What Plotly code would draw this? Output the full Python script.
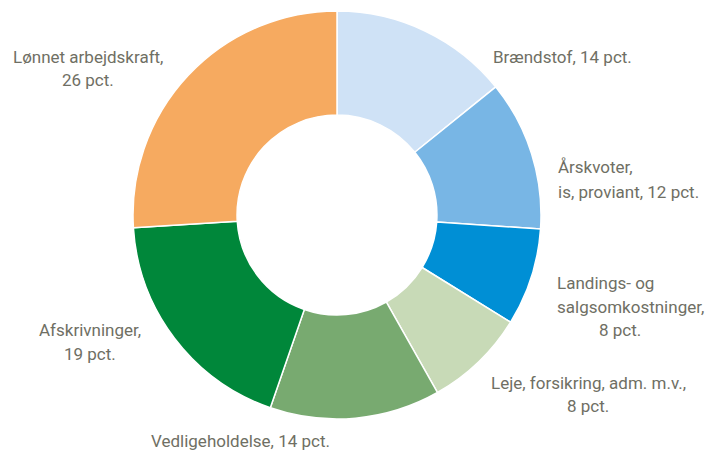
import plotly.graph_objects as go

categories = ["Brændstof", "Årskvoter, is, proviant", "Landings- og salgsomkostninger",
              "Leje, forsikring, adm. m.v.", "Vedligeholdelse", "Afskrivninger", "Lønnet arbejdskraft"]
# slice sizes (labels show rounded pct.)
values = [14.2, 11.9, 7.7, 8.0, 13.5, 18.7, 26.0]
colors = ["#cfe2f6", "#78b6e5", "#008fd5", "#c8dab7", "#78aa70", "#00873a", "#f6aa60"]

# label lines: (text, x_px, y_px, anchor)
label_lines = [
    ("Lønnet arbejdskraft,", 88, 57, "center"),
    ("26 pct.", 88, 80, "center"),
    ("Brændstof, 14 pct.", 491, 57, "left"),
    ("Årskvoter,", 556, 167, "left"),
    ("is, proviant, 12 pct.", 556, 192, "left"),
    ("Landings- og", 555, 283, "left"),
    ("salgsomkostninger,", 555, 307, "left"),
    ("8 pct.", 620, 330, "center"),
    ("Leje, forsikring, adm. m.v.,", 588, 383, "center"),
    ("8 pct.", 588, 406, "center"),
    ("Afskrivninger,", 90, 330, "center"),
    ("19 pct.", 90, 354, "center"),
    ("Vedligeholdelse, 14 pct.", 240, 441, "center"),
]

W, H = 710, 458
cx, cy, r = 337, 215, 204

fig = go.Figure(go.Pie(
    labels=categories,
    values=values,
    marker=dict(colors=colors, line=dict(color="white", width=1.5)),
    hole=0.49,
    sort=False,
    direction="clockwise",
    rotation=0,
    textinfo="none",
    hoverinfo="label",
    showlegend=False,
    domain=dict(x=[(cx - r) / W, (cx + r) / W], y=[(H - cy - r) / H, (H - cy + r) / H]),
))

font_family = "Roboto, Liberation Sans, sans-serif"
for text, x, y, anchor in label_lines:
    fig.add_annotation(
        text=text, x=x / W, y=1 - y / H, xref="paper", yref="paper",
        xanchor=anchor, yanchor="middle", showarrow=False,
        font=dict(family=font_family, size=17, color="#6f6f64"),
    )

fig.update_layout(
    width=W, height=H,
    margin=dict(l=0, r=0, t=0, b=0),
    paper_bgcolor="white", plot_bgcolor="white",
)

fig.write_html("out.html", config={"displayModeBar": False},
               post_script="document.body.style.margin='0';")
